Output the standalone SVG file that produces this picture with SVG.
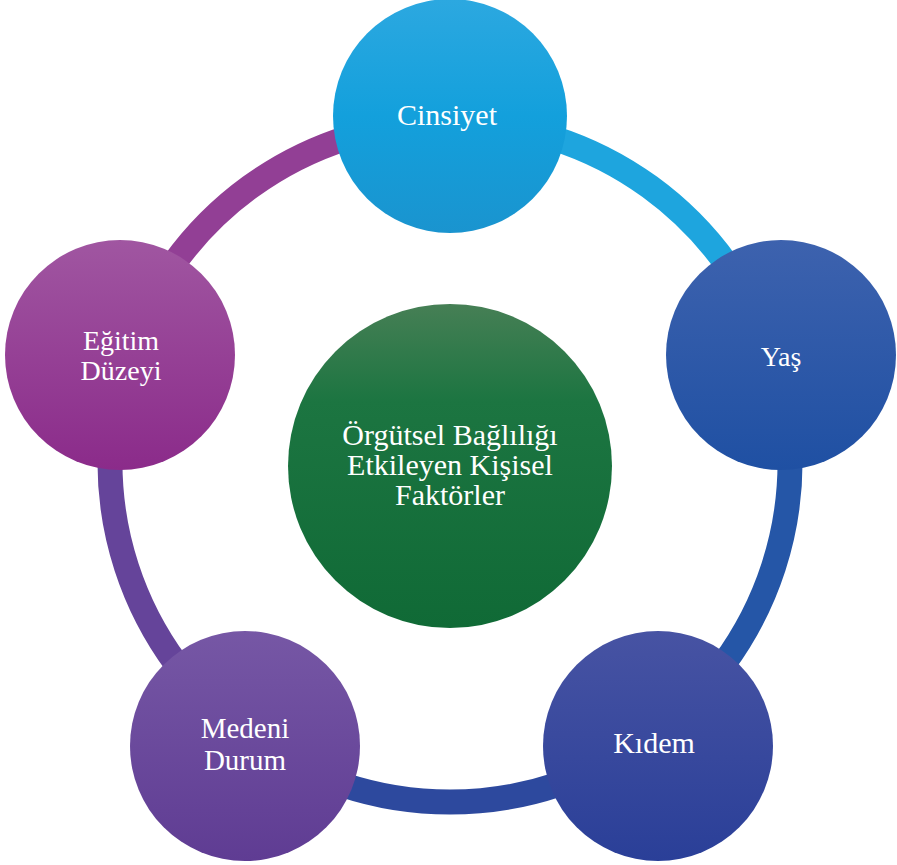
<svg xmlns="http://www.w3.org/2000/svg" width="897" height="865" viewBox="0 0 897 865">
  <style>
    .lbl { font-family: "Liberation Serif", "Times New Roman", serif; fill: #ffffff; text-anchor: middle; }
    .ring { fill: none; stroke-width: 25; }
  </style>
  <defs>
    <linearGradient id="gCins" x1="0" y1="0" x2="0" y2="1">
      <stop offset="0" stop-color="#2ca8e0"/>
      <stop offset="0.5" stop-color="#13a0dc"/>
      <stop offset="1" stop-color="#1a94cf"/>
    </linearGradient>
    <linearGradient id="gYas" x1="0" y1="0" x2="0" y2="1">
      <stop offset="0" stop-color="#3d62ae"/>
      <stop offset="1" stop-color="#1f50a3"/>
    </linearGradient>
    <linearGradient id="gKid" x1="0" y1="0" x2="0" y2="1">
      <stop offset="0" stop-color="#4753a3"/>
      <stop offset="1" stop-color="#2a3f98"/>
    </linearGradient>
    <linearGradient id="gMed" x1="0" y1="0" x2="0" y2="1">
      <stop offset="0" stop-color="#7657a5"/>
      <stop offset="1" stop-color="#5f3c93"/>
    </linearGradient>
    <linearGradient id="gEgi" x1="0" y1="0" x2="0" y2="1">
      <stop offset="0" stop-color="#a056a1"/>
      <stop offset="1" stop-color="#8b2b8a"/>
    </linearGradient>
    <linearGradient id="gCen" x1="0" y1="0" x2="0" y2="1">
      <stop offset="0" stop-color="#467f55"/>
      <stop offset="0.3" stop-color="#1c7541"/>
      <stop offset="1" stop-color="#106a36"/>
    </linearGradient>
  </defs>

  <g id="connectors">
    <path class="ring" stroke="#1ea5de" d="M 450 122 A 340 340 0 0 1 773.4 356.9"/>
    <path class="ring" stroke="#2556a7" d="M 773.4 356.9 A 340 340 0 0 1 649.9 737.1"/>
    <path class="ring" stroke="#2d499e" d="M 649.9 737.1 A 340 340 0 0 1 250.1 737.1"/>
    <path class="ring" stroke="#65449a" d="M 250.1 737.1 A 340 340 0 0 1 126.6 356.9"/>
    <path class="ring" stroke="#923f95" d="M 126.6 356.9 A 340 340 0 0 1 450 122"/>
  </g>

  <g id="center">
    <circle cx="450" cy="466" r="162" fill="url(#gCen)"/>
    <text class="lbl" font-size="30" x="450" y="445">Örgütsel Bağlılığı</text>
    <text class="lbl" font-size="30" x="450" y="475">Etkileyen Kişisel</text>
    <text class="lbl" font-size="30" x="450" y="505">Faktörler</text>
  </g>

  <g id="cinsiyet">
    <circle cx="450" cy="116" r="117" fill="url(#gCins)"/>
    <text class="lbl" font-size="30" x="447" y="125">Cinsiyet</text>
  </g>

  <g id="yas">
    <circle cx="781" cy="355" r="115" fill="url(#gYas)"/>
    <text class="lbl" font-size="28" x="781" y="366">Yaş</text>
  </g>

  <g id="kidem">
    <circle cx="658" cy="746" r="115" fill="url(#gKid)"/>
    <text class="lbl" font-size="30" x="654" y="753">Kıdem</text>
  </g>

  <g id="medeni">
    <circle cx="245" cy="746" r="115" fill="url(#gMed)"/>
    <text class="lbl" font-size="29" x="245" y="738">Medeni</text>
    <text class="lbl" font-size="29" x="245" y="770">Durum</text>
  </g>

  <g id="egitim">
    <circle cx="120" cy="355" r="115" fill="url(#gEgi)"/>
    <text class="lbl" font-size="28" x="121" y="350">Eğitim</text>
    <text class="lbl" font-size="28" x="121" y="380">Düzeyi</text>
  </g>
</svg>
